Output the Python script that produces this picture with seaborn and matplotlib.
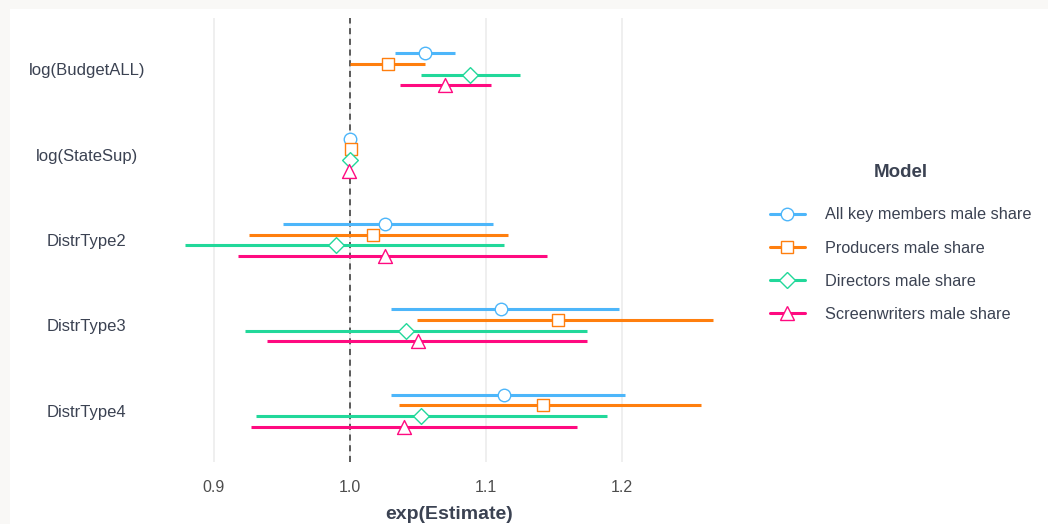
import numpy as np
import pandas as pd
import matplotlib.pyplot as plt
import matplotlib.patches as mpatches
from matplotlib.lines import Line2D
import seaborn as sns

sns.set_style("white")
plt.rcParams['font.family'] = ['Liberation Sans', 'DejaVu Sans']

# values (exp of coefficient and CI)
terms = ['log(BudgetALL)', 'log(StateSup)', 'DistrType2', 'DistrType3', 'DistrType4']
models = ['All key members male share', 'Producers male share',
          'Directors male share', 'Screenwriters male share']

est_all = [1.055, 1.000, 1.026, 1.111, 1.113]
low_all = [1.033, 0.999, 0.951, 1.030, 1.030]
high_all = [1.077, 1.001, 1.105, 1.198, 1.202]

est_prod = [1.028, 1.001, 1.017, 1.153, 1.142]
low_prod = [1.000, 1.000, 0.926, 1.049, 1.036]
high_prod = [1.055, 1.002, 1.116, 1.267, 1.258]

est_dir = [1.088, 1.000, 0.990, 1.041, 1.052]
low_dir = [1.052, 0.999, 0.879, 0.923, 0.931]
high_dir = [1.125, 1.001, 1.113, 1.174, 1.189]

est_scr = [1.070, 0.999, 1.026, 1.050, 1.040]
low_scr = [1.037, 0.998, 0.918, 0.939, 0.927]
high_scr = [1.104, 1.000, 1.145, 1.174, 1.167]

xticks = [0.9, 1.0, 1.1, 1.2]

colors = ['#4DB6FA', '#FF7F0E', '#22D89A', '#FF0A80']
markers = ['o', 's', 'D', '^']
msizes = [9, 9, 8, 10]
text_col = '#3B4252'

rows = []
for m, est, lo, hi in zip(models,
                          [est_all, est_prod, est_dir, est_scr],
                          [low_all, low_prod, low_dir, low_scr],
                          [high_all, high_prod, high_dir, high_scr]):
    for t, e, l, h in zip(terms, est, lo, hi):
        rows.append({'Model': m, 'term': t, 'est': e, 'low': l, 'high': h})
df = pd.DataFrame(rows)

# dodge like position_dodge(width = 0.5)
offsets = dict(zip(models, [-0.1875, -0.0625, 0.0625, 0.1875]))
df['ypos'] = df['term'].map({t: i for i, t in enumerate(terms)}) + df['Model'].map(offsets)

fig = plt.figure(figsize=(10.48, 5.24), dpi=100, facecolor='#F9F8F6')
fig.patches.append(mpatches.Rectangle((10 / 1048, 0), 1, 1 - 9 / 524,
                                      transform=fig.transFigure,
                                      facecolor='white', edgecolor='none', zorder=-5))
ax = fig.add_axes([159 / 1048, 1 - 462 / 524, 580.5 / 1048, 444 / 524])
ax.set_facecolor('white')

# grid and reference line
for xt in xticks:
    ax.axvline(xt, color='#EBEBEB', lw=1.1, zorder=0)
ax.axvline(1.0, color='#333333', lw=1.1, ls=(0, (4, 3)), zorder=1)

# confidence intervals
for m, c in zip(models, colors):
    sub = df[df['Model'] == m]
    ax.hlines(sub['ypos'], sub['low'], sub['high'], color=c, lw=2.2, zorder=2)

# point estimates
for m, c, mk, ms in zip(models, colors, markers, msizes):
    sub = df[df['Model'] == m]
    sns.scatterplot(data=sub, x='est', y='ypos', marker=mk, s=ms ** 2,
                    facecolor='white', edgecolor=c, linewidth=1.0,
                    ax=ax, zorder=3, legend=False)

ax.set_xlim(0.8596, 1.2864)
ax.set_ylim(4.6, -0.6)
ax.set_xticks(xticks)
ax.set_xticklabels([f'{v:.1f}' for v in xticks])
ax.set_yticks(range(len(terms)))
ax.set_yticklabels(terms)
for lab in ax.get_yticklabels():
    lab.set_ha('center')
ax.tick_params(axis='y', length=0, pad=52, labelsize=12, labelcolor=text_col)
ax.tick_params(axis='x', length=0, pad=13, labelsize=11.5, labelcolor='#4D4D4D')
ax.set_ylabel('')
ax.set_xlabel('exp(Estimate)', fontsize=14, fontweight='bold', color=text_col)
ax.xaxis.set_label_coords(0.5, -0.1)
for sp in ax.spines.values():
    sp.set_visible(False)

handles = [Line2D([0], [0], color=c, lw=2.2, marker=mk, markersize=ms,
                  markerfacecolor='white', markeredgecolor=c, markeredgewidth=1.0)
           for c, mk, ms in zip(colors, markers, msizes)]
leg = fig.legend(handles, models, title='Model', loc='center left',
                 bbox_to_anchor=(763 / 1048, 1 - 243 / 524), frameon=False,
                 fontsize=11.7, title_fontsize=13.5, labelspacing=1.12,
                 handlelength=2.2, handletextpad=1.2, borderaxespad=0)
leg.get_title().set_fontweight('bold')
leg.get_title().set_color(text_col)
for txt in leg.get_texts():
    txt.set_color(text_col)
leg._legend_box.sep = 19

fig.savefig('out.png', dpi=100, facecolor=fig.get_facecolor())
